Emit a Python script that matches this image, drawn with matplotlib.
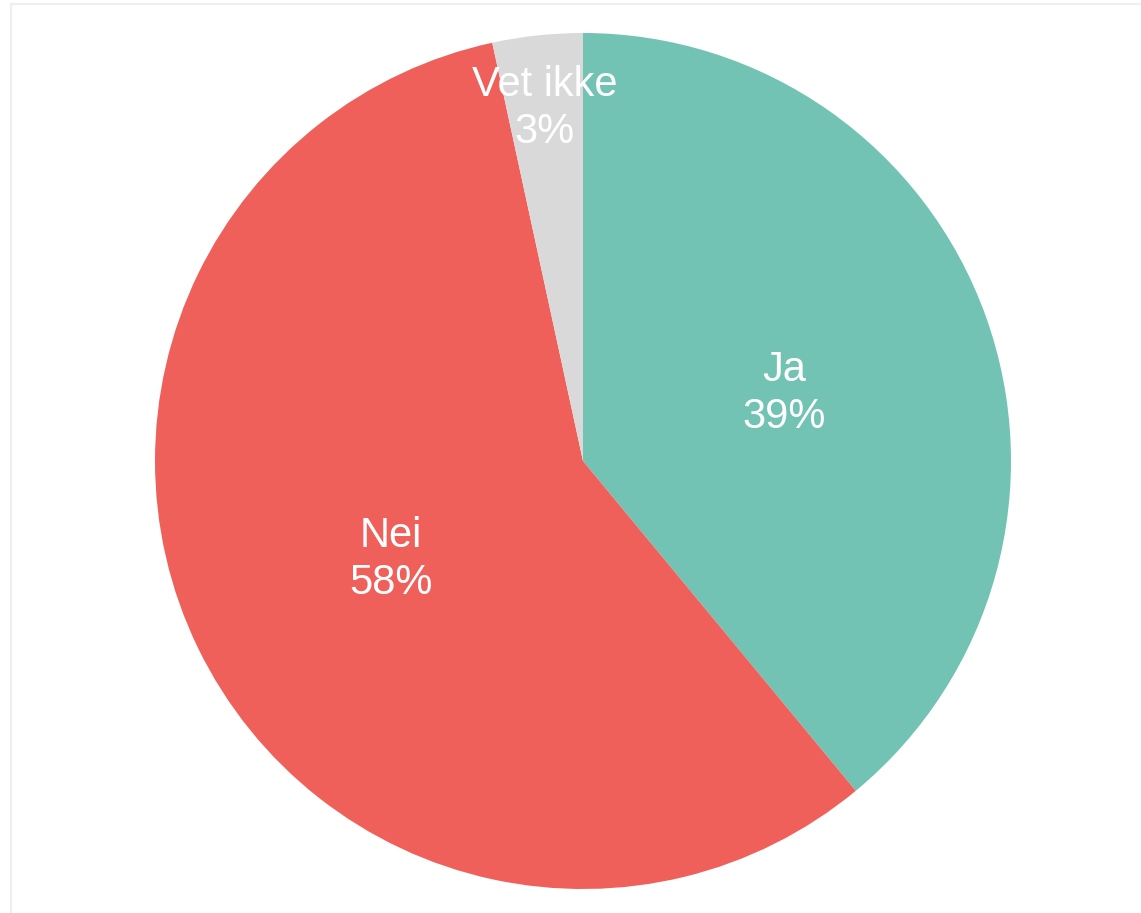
import matplotlib
matplotlib.use("Agg")
import matplotlib.pyplot as plt
from matplotlib.lines import Line2D
import numpy as np

labels = ["Ja", "Nei", "Vet ikke"]
values = [39.0, 57.6, 3.4]
colors = ["#72C3B4", "#F0605A", "#D9D9D9"]

W, H = 1141, 913
fig = plt.figure(figsize=(W / 100, H / 100), dpi=100)
fig.patch.set_facecolor("white")

# faint frame along the top and left edges
fig.add_artist(Line2D([10.5 / W, 10.5 / W], [0, 1 - 4.5 / H], color="#EFEFEF", lw=1.5))
fig.add_artist(Line2D([10.5 / W, 1], [1 - 4.5 / H, 1 - 4.5 / H], color="#EFEFEF", lw=1.5))

cx, cy, r = 583, 461, 428
ax = fig.add_axes([(cx - r) / W, (H - cy - r) / H, 2 * r / W, 2 * r / H])
wedges, _ = ax.pie(values, colors=colors, startangle=90, counterclock=False,
                   radius=1, wedgeprops=dict(linewidth=0))
ax.set_xlim(-1, 1)
ax.set_ylim(-1, 1)
ax.set_aspect("equal")
ax.axis("off")

dists = [0.5, 0.5, 0.84]
for w, lab, v, d in zip(wedges, labels, values, dists):
    ang = np.deg2rad((w.theta1 + w.theta2) / 2)
    ax.text(d * np.cos(ang), d * np.sin(ang) - 0.012, f"{lab}\n{v:.0f}%", ha="center", va="center",
            color="white", fontsize=30, family="Liberation Sans", linespacing=1.22)

fig.savefig("out.png", dpi=100)
